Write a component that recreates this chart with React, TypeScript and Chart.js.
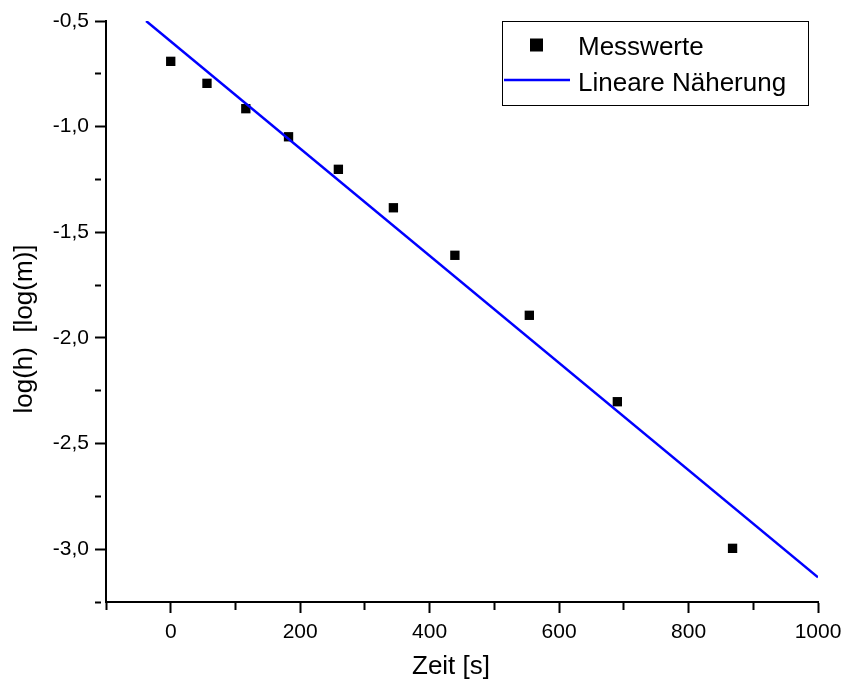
import React, { useEffect, useRef } from 'react';
import { Chart, registerables } from 'chart.js';

Chart.register(...registerables);

// ---- data ----
const timeS = [0, 56, 116, 182, 259, 344, 439, 554, 690, 868];
const logH = [-0.691, -0.795, -0.915, -1.048, -1.202, -1.384, -1.609, -1.893, -2.302, -2.996];
const fitX = [-38, 1000];
const fitY = [-0.5, -3.133];
const seriesNames = ['Messwerte', 'Lineare Näherung'];
const xTitle = 'Zeit [s]';
const yTitle = 'log(h)  [log(m)]';
const xRange = [-100, 1000];
const yRange = [-3.25, -0.5];
const xStep = 100;
const yStep = 0.25;
const xMajorEvery = 200;
const yMajorEvery = 0.5;

const FONT = '"Liberation Sans", Arial, Helvetica, sans-serif';

const isMajor = (v: number, every: number) => {
  const r = v / every;
  return Math.abs(r - Math.round(r)) < 1e-6;
};

const overlayPlugin = {
  id: 'overlay',
  afterDraw(chart: any) {
    const { ctx, chartArea } = chart;
    ctx.save();
    ctx.fillStyle = '#000';
    ctx.font = `26px ${FONT}`;
    ctx.textAlign = 'center';
    ctx.textBaseline = 'alphabetic';
    // axis titles
    ctx.fillText(xTitle, chartArea.left + 345, chartArea.bottom + 72);
    ctx.save();
    ctx.translate(chartArea.left - 74, chartArea.top + 308);
    ctx.rotate(-Math.PI / 2);
    ctx.fillText(yTitle, 0, 0);
    ctx.restore();

    // legend box
    const bx = chartArea.right - 316;
    const by = chartArea.top;
    const bw = 306;
    const bh = 84;
    ctx.fillStyle = '#fff';
    ctx.fillRect(bx, by, bw, bh);
    ctx.strokeStyle = '#000';
    ctx.lineWidth = 1;
    ctx.strokeRect(bx + 0.5, by + 0.5, bw, bh);

    const pts = chart.data.datasets[1];
    const line = chart.data.datasets[0];
    // marker
    ctx.fillStyle = pts.backgroundColor;
    ctx.fillRect(bx + 28, by + 17.5, 13, 13);
    // line sample
    ctx.strokeStyle = line.borderColor;
    ctx.lineWidth = line.borderWidth;
    ctx.beginPath();
    ctx.moveTo(bx + 2, by + 59);
    ctx.lineTo(bx + 68, by + 59);
    ctx.stroke();
    // texts
    ctx.fillStyle = '#000';
    ctx.textAlign = 'left';
    ctx.font = `26px ${FONT}`;
    ctx.fillText(seriesNames[0], bx + 76, by + 34);
    ctx.fillText(seriesNames[1], bx + 76, by + 69.5);
    ctx.restore();
  },
};

export default function App() {
  const ref = useRef<HTMLCanvasElement | null>(null);

  useEffect(() => {
    document.body.style.margin = '0';
    const canvas = ref.current;
    if (!canvas) return;
    const chart = new Chart(canvas, {
      type: 'scatter',
      data: {
        datasets: [
          {
            type: 'line',
            label: seriesNames[1],
            data: fitX.map((x, i) => ({ x, y: fitY[i] })),
            borderColor: '#0000ff',
            borderWidth: 2.5,
            pointRadius: 0,
            fill: false,
            tension: 0,
            order: 0,
          } as any,
          {
            type: 'scatter',
            label: seriesNames[0],
            data: timeS.map((x, i) => ({ x, y: logH[i] })),
            backgroundColor: '#000000',
            borderColor: '#000000',
            pointStyle: 'rect',
            pointRadius: 6.6,
            pointBorderWidth: 0,
            pointHoverRadius: 6.6,
            order: 1,
          } as any,
        ],
      },
      options: {
        animation: false,
        responsive: false,
        events: [],
        layout: { padding: { top: 21, right: 27, left: 0, bottom: 0 } },
        plugins: {
          legend: { display: false },
          tooltip: { enabled: false },
        },
        scales: {
          x: {
            type: 'linear',
            position: 'bottom',
            min: xRange[0],
            max: xRange[1],
            ticks: {
              stepSize: xStep,
              autoSkip: false,
              maxRotation: 0,
              padding: 7,
              color: '#000',
              font: { family: FONT, size: 21 },
              callback: (v: any) => (isMajor(Number(v), xMajorEvery) ? String(Math.round(Number(v))) : ''),
            },
            grid: {
              drawOnChartArea: false,
              drawTicks: true,
              tickLength: 11,
              tickWidth: 2,
              tickColor: '#000',
              tickBorderDash: (c: any) => (c.tick && !isMajor(c.tick.value, xMajorEvery) ? [7, 60] : []),
            },
            border: { display: true, color: '#000', width: 2 },
            afterFit: (s: any) => {
              s.height = 79;
              s.paddingLeft = 0;
              s.paddingRight = 0;
            },
          },
          y: {
            type: 'linear',
            position: 'left',
            min: yRange[0],
            max: yRange[1],
            ticks: {
              stepSize: yStep,
              autoSkip: false,
              padding: 6,
              color: '#000',
              font: { family: FONT, size: 21 },
              callback: (v: any) => (isMajor(Number(v), yMajorEvery) ? Number(v).toFixed(1).replace('.', ',') : ''),
            },
            grid: {
              drawOnChartArea: false,
              drawTicks: true,
              tickLength: 11,
              tickWidth: 2,
              tickColor: '#000',
              tickBorderDash: (c: any) => (c.tick && !isMajor(c.tick.value, yMajorEvery) ? [6, 60] : []),
            },
            border: { display: true, color: '#000', width: 2 },
            afterFit: (s: any) => {
              s.width = 106;
              s.paddingTop = 0;
              s.paddingBottom = 0;
            },
          },
        },
      } as any,
      plugins: [overlayPlugin],
    });
    return () => chart.destroy();
  }, []);

  return (
    <div style={{ width: 845, height: 681, background: '#fff' }}>
      <canvas ref={ref} width={845} height={681} style={{ display: 'block' }} />
    </div>
  );
}
